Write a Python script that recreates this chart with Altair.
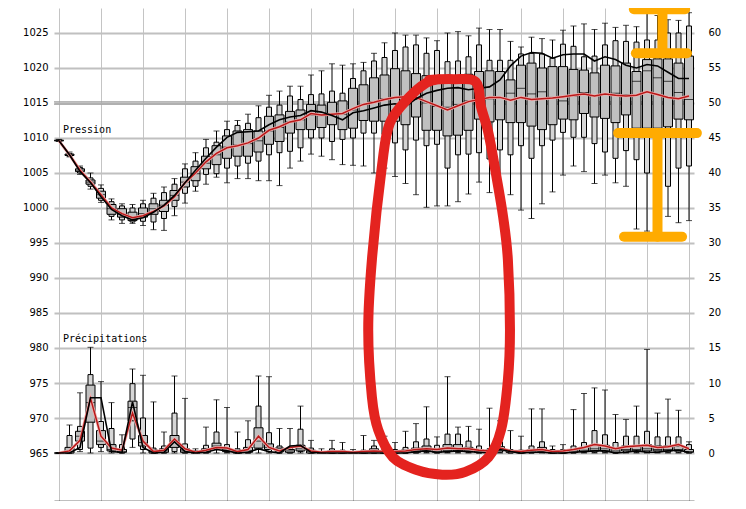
import altair as alt
import pandas as pd

steps = list(range(61))

# ---- Pression (hPa) : min, p10, q1, median, q3, p90, max, controle, moyenne
p_min = [1009.5, 1007.3, 1004.8, 1002.7, 1000.8, 998.3, 997.8, 997.8, 997.5, 996.9,
         996.8, 998.9, 1000.7, 1002.4, 1003.4, 1004.4, 1003.6, 1004.2, 1004.2, 1003.9,
         1003.9, 1003.2, 1005.7, 1006.7, 1007.7, 1007.4, 1006.9, 1006.2, 1006.1, 1006.0,
         1005.0, 1005.7, 1004.5, 1003.5, 1001.9, 1000.1, 1000.3, 1000.3, 1000.9, 1002.0,
         1003.7, 1002.2, 1001.6, 1001.9, 999.7, 998.5, 1000.6, 1002.3, 1004.7, 1006.0,
         1005.2, 1003.5, 1004.7, 1003.6, 1003.1, 997.0, 996.7, 998.0, 998.8, 997.9, 998.2]
p_p10 = [1009.6, 1007.4, 1005.0, 1003.1, 1001.1, 998.8, 998.3, 998.0, 998.1, 998.0,
         998.5, 1000.2, 1002.1, 1003.1, 1004.8, 1004.9, 1005.7, 1006.0, 1006.4, 1006.7,
         1007.6, 1007.9, 1008.1, 1008.6, 1010.0, 1010.0, 1009.5, 1009.8, 1010.0, 1010.7,
         1010.7, 1010.5, 1009.3, 1008.3, 1009.7, 1008.9, 1009.1, 1005.7, 1007.6, 1007.7,
         1007.9, 1007.0, 1008.3, 1007.6, 1008.9, 1007.1, 1008.9, 1009.7, 1010.8, 1010.1,
         1010.1, 1009.2, 1008.0, 1007.1, 1008.2, 1006.9, 1005.0, 1006.0, 1003.1, 1005.7, 1006.0]
p_q1 = [1009.6, 1007.5, 1005.2, 1003.4, 1001.4, 999.1, 998.7, 998.2, 998.7, 999.1,
        999.5, 1001.1, 1003.0, 1003.9, 1005.6, 1006.2, 1007.1, 1007.4, 1007.4, 1008.0,
        1009.1, 1009.5, 1010.7, 1011.2, 1011.2, 1011.5, 1011.9, 1011.2, 1011.4, 1012.5,
        1012.4, 1012.4, 1012.4, 1011.9, 1013.0, 1011.1, 1011.1, 1010.3, 1010.4, 1011.1,
        1012.7, 1012.3, 1012.6, 1012.2, 1012.2, 1011.7, 1011.2, 1011.9, 1012.7, 1012.6,
        1013.5, 1013.0, 1012.8, 1012.2, 1013.3, 1011.4, 1011.4, 1011.4, 1011.6, 1012.7, 1012.6]
p_med = [1009.6, 1007.6, 1005.4, 1003.7, 1001.9, 999.9, 999.1, 998.7, 999.2, 999.9,
         1000.4, 1001.8, 1003.7, 1004.9, 1006.4, 1007.6, 1008.7, 1009.0, 1009.2, 1009.6,
         1011.0, 1011.5, 1012.3, 1012.6, 1013.3, 1013.2, 1013.4, 1013.4, 1014.0, 1014.8,
         1015.2, 1015.6, 1015.8, 1015.8, 1015.5, 1015.0, 1014.5, 1014.4, 1014.8, 1015.3,
         1016.9, 1015.6, 1015.7, 1016.4, 1017.1, 1016.3, 1016.6, 1015.8, 1015.3, 1016.0,
         1016.5, 1016.0, 1016.3, 1016.4, 1016.2, 1018.1, 1019.6, 1018.6, 1018.1, 1016.5, 1015.5]
p_q3 = [1009.7, 1007.7, 1005.6, 1004.0, 1002.4, 1000.5, 999.9, 999.4, 1000.0, 1000.6,
        1001.1, 1002.5, 1004.4, 1005.9, 1007.4, 1008.9, 1010.3, 1011.0, 1011.2, 1011.0,
        1013.1, 1013.3, 1013.8, 1014.0, 1014.8, 1014.7, 1015.1, 1015.3, 1017.1, 1017.6,
        1018.6, 1019.0, 1019.9, 1019.6, 1019.2, 1018.9, 1018.5, 1018.0, 1018.8, 1019.1,
        1019.5, 1019.6, 1019.5, 1018.3, 1020.4, 1020.7, 1020.0, 1020.2, 1020.2, 1019.8,
        1019.7, 1019.3, 1020.4, 1020.3, 1020.7, 1019.5, 1021.2, 1021.3, 1021.3, 1020.7, 1021.7]
p_p90 = [1009.7, 1007.8, 1005.8, 1004.3, 1002.8, 1000.9, 1000.3, 1000.0, 1000.6, 1001.4,
         1002.2, 1003.4, 1005.6, 1006.7, 1008.6, 1009.4, 1011.2, 1011.8, 1012.1, 1012.9,
         1014.4, 1014.7, 1016.0, 1015.5, 1016.2, 1016.3, 1016.7, 1016.4, 1018.5, 1019.6,
         1021.0, 1021.5, 1022.5, 1023.0, 1023.3, 1022.1, 1022.5, 1020.9, 1021.0, 1021.6,
         1023.3, 1021.1, 1021.1, 1021.1, 1022.0, 1022.1, 1022.0, 1021.4, 1023.4, 1023.1,
         1021.6, 1021.7, 1023.3, 1023.9, 1023.8, 1023.7, 1024.0, 1024.0, 1025.0, 1025.0, 1026.0]
p_max = [1009.8, 1008.0, 1006.0, 1005.0, 1003.3, 1001.3, 1000.6, 1000.5, 1001.1, 1002.1,
         1003.0, 1004.2, 1006.3, 1007.9, 1009.8, 1011.0, 1012.4, 1012.5, 1013.4, 1014.6,
         1016.1, 1016.7, 1017.4, 1017.4, 1019.0, 1019.6, 1020.6, 1020.4, 1020.6, 1020.8,
         1022.1, 1023.6, 1025.0, 1024.7, 1024.7, 1024.3, 1023.9, 1025.0, 1025.2, 1024.6,
         1025.7, 1025.5, 1025.5, 1023.8, 1023.0, 1024.4, 1024.2, 1024.0, 1025.4, 1026.0,
         1026.3, 1025.5, 1026.4, 1025.8, 1026.1, 1025.9, 1027.8, 1027.5, 1026.9, 1026.8, 1027.9]
p_ctrl = [1009.6, 1007.6, 1005.2, 1003.6, 1001.6, 999.8, 998.9, 998.3, 998.6, 999.4,
          1000.4, 1001.8, 1003.6, 1005.4, 1007.1, 1008.7, 1010.1, 1010.8, 1010.9, 1011.0,
          1011.9, 1012.6, 1013.0, 1013.2, 1013.9, 1013.7, 1013.2, 1012.6, 1013.6, 1013.9,
          1014.3, 1014.7, 1014.9, 1014.5, 1015.6, 1016.4, 1016.8, 1017.1, 1017.2, 1016.9,
          1017.1, 1017.3, 1018.3, 1020.3, 1021.7, 1022.2, 1022.1, 1021.4, 1021.9, 1022.0,
          1022.0, 1021.0, 1021.6, 1021.2, 1020.4, 1020.0, 1020.5, 1020.3, 1019.4, 1018.5, 1018.5]
p_mean = [1009.6, 1007.6, 1005.4, 1003.7, 1001.9, 1000.0, 999.2, 998.6, 998.9, 999.5,
          1000.3, 1001.6, 1003.6, 1005.0, 1006.6, 1007.8, 1008.6, 1008.9, 1009.3, 1010.0,
          1011.1, 1011.6, 1012.3, 1012.6, 1013.5, 1013.3, 1013.4, 1013.5, 1014.2, 1014.8,
          1015.1, 1015.5, 1015.8, 1015.9, 1015.8, 1015.2, 1014.6, 1014.0, 1014.6, 1015.2,
          1015.5, 1015.8, 1015.8, 1015.4, 1015.8, 1015.5, 1015.6, 1015.7, 1015.9, 1016.1,
          1016.3, 1016.0, 1016.3, 1016.1, 1016.0, 1016.1, 1016.6, 1016.2, 1015.8, 1015.6, 1016.0]

# ---- Precipitations (mm)
r_min = [0, 0, 0.2, 0, 0.2, 0, 0, 0.8, 0, 0, 0, 0, 0, 0, 0, 0, 0, 0, 0, 0,
         0, 0, 0, 0, 0, 0, 0, 0, 0, 0, 0, 0, 0, 0, 0, 0, 0, 0, 0, 0,
         0, 0, 0, 0, 0, 0, 0, 0, 0, 0, 0, 0, 0, 0, 0, 0, 0, 0, 0, 0, 0]
r_p10 = [0, 0, 0.5, 0.7, 0.8, 0.2, 0, 2.0, 0.5, 0, 0, 0.2, 0, 0, 0, 0.5, 0.1, 0, 0, 0.5,
         0.2, 0, 0, 0.2, 0, 0, 0, 0, 0, 0, 0, 0, 0, 0, 0, 0.1, 0, 0.1, 0.1, 0.1,
         0, 0, 0.1, 0, 0, 0, 0.1, 0, 0, 0, 0.1, 0.1, 0.1, 0, 0.1, 0.1, 0.1, 0.1, 0.1, 0.1, 0]
r_q1 = [0, 0, 1.7, 4.4, 1.2, 0.3, 0.1, 4.6, 1.0, 0, 0.1, 0.8, 0.1, 0, 0.1, 0.7, 0.2, 0, 0.1, 0.7,
        0.5, 0.2, 0.1, 0.3, 0, 0, 0, 0, 0, 0, 0.1, 0, 0, 0.1, 0.1, 0.3, 0.1, 0.3, 0.3, 0.2,
        0.1, 0.1, 0.3, 0.1, 0, 0.1, 0.2, 0, 0, 0.1, 0.2, 0.3, 0.3, 0.1, 0.3, 0.3, 0.3, 0.3, 0.3, 0.3, 0.1]
r_med = [0, 0.2, 2.4, 7.2, 1.7, 0.5, 0.2, 6.5, 1.5, 0.2, 0.3, 1.7, 0.3, 0.1, 0.3, 1.0, 0.4, 0.1, 0.3, 1.7,
         0.8, 0.4, 0.3, 0.6, 0.2, 0, 0.1, 0.1, 0, 0.1, 0.3, 0.1, 0.1, 0.2, 0.3, 0.5, 0.3, 0.6, 0.6, 0.4,
         0.3, 0.2, 0.5, 0.2, 0.1, 0.3, 0.4, 0.1, 0.1, 0.3, 0.4, 0.6, 0.6, 0.3, 0.5, 0.5, 0.6, 0.5, 0.5, 0.5, 0.2]
r_q3 = [0, 0.8, 3.1, 9.7, 3.2, 1.2, 0.5, 7.4, 2.5, 0.4, 0.6, 2.5, 0.6, 0.2, 0.6, 1.4, 0.6, 0.3, 0.8, 3.6,
        1.3, 0.7, 0.5, 1.1, 0.4, 0.1, 0.3, 0.2, 0.1, 0.2, 0.6, 0.3, 0.2, 0.4, 0.7, 1.0, 0.6, 1.2, 1.2, 0.8,
        0.5, 0.4, 0.9, 0.3, 0.2, 0.5, 0.8, 0.2, 0.2, 0.5, 0.8, 1.2, 1.1, 0.6, 1.0, 1.0, 1.2, 1.0, 1.0, 1.0, 0.5]
r_p90 = [0, 2.5, 3.8, 11.2, 4.5, 3.5, 1.2, 9.9, 5.0, 0.7, 1.0, 5.7, 1.3, 0.3, 1.1, 3.0, 1.2, 0.6, 1.9, 6.7,
         2.9, 1.0, 0.8, 3.4, 0.7, 0.2, 0.6, 0.4, 0.2, 0.4, 1.0, 0.6, 0.5, 0.8, 1.6, 2.0, 1.1, 2.7, 2.7, 1.7,
         1.0, 0.6, 1.6, 0.5, 0.4, 1.0, 1.6, 0.5, 0.5, 1.0, 1.5, 3.2, 2.6, 1.5, 2.4, 2.4, 3.1, 2.3, 2.3, 2.3, 1.2]
r_max = [0, 4.0, 8.6, 15.1, 10.2, 7.2, 2.6, 12.0, 11.1, 7.3, 3.0, 11.0, 7.8, 0.6, 3.7, 7.6, 6.5, 3.0, 4.6, 11.0,
         10.9, 3.5, 3.5, 6.7, 1.8, 0.6, 1.8, 1.5, 0.5, 2.5, 1.8, 2.4, 1.5, 3.1, 4.2, 6.6, 2.3, 10.9, 3.7, 3.8,
         3.4, 6.4, 4.6, 3.2, 2.4, 6.3, 6.3, 1.0, 1.2, 6.2, 8.5, 9.3, 9.0, 5.5, 4.8, 6.7, 14.8, 5.7, 7.7, 6.1, 1.6]
r_ctrl = [0, 0, 0.8, 7.9, 7.9, 0.2, 0.1, 7.3, 0.8, 0, 0.1, 1.6, 0.2, 0, 0.1, 0.5, 0.3, 0, 0.1, 0.6,
          0.2, 0, 1.0, 1.1, 0.1, 0, 0, 0, 0, 0, 0, 0, 0, 0, 0.2, 0.3, 0.1, 0.2, 0.3, 0.2,
          0.1, 0, 0.5, 0.2, 0, 0.1, 0.1, 0, 0, 0.1, 0.2, 0.3, 0.3, 0, 0.1, 0.3, 0.1, 0.1, 0.3, 0.4, 0.1]
r_mean = [0, 0.3, 1.8, 7.8, 2.4, 0.7, 0.4, 5.7, 1.7, 0.2, 0.4, 2.0, 0.6, 0.1, 0.4, 0.8, 0.7, 0.2, 0.5, 2.4,
          0.8, 0.3, 0.8, 1.0, 0.3, 0.1, 0.2, 0.2, 0.1, 0.2, 0.3, 0.2, 0.2, 0.3, 0.5, 0.6, 0.5, 0.7, 0.6, 0.6,
          0.4, 0.3, 0.7, 0.3, 0.2, 0.4, 0.5, 0.2, 0.3, 0.5, 0.8, 1.2, 1.0, 0.6, 0.9, 1.0, 1.1, 0.8, 0.9, 1.2, 0.6]

precip_base = 965  # 0 mm sits on the 965 hPa line (right axis = left axis - 965)

y_levels = list(range(965, 1030, 5))
x_grid = list(range(0, 61, 4))
ref_1015 = [1015.15, 1014.85]

# hand-drawn annotations (data units: step, hPa)
loop_i = [35.25, 37.6, 39.7, 40.2, 40.9, 41.6, 42.3, 42.75, 42.95, 42.75, 42.1, 40.9, 38.7,
          36.5, 34.0, 31.8, 30.4, 29.8, 29.45, 29.8, 30.75, 31.5, 33.4, 35.0, 36.2]
loop_p = [1018.3, 1018.4, 1018.0, 1014.4, 1010.7, 1005.0, 998.7, 992.6, 982.6, 975.4, 968.3,
          964.4, 962.3, 961.9, 962.6, 964.4, 968.3, 973.0, 982.6, 992.6, 1005.9, 1012.1,
          1015.9, 1017.9, 1018.4]
beam_i1 = [54.75, 57.47, 54.94, 53.25, 57.0, 53.81]
beam_i2 = [59.63, 57.47, 59.81, 60.75, 57.0, 59.34]
beam_p1 = [1028.4, 1028.4, 1022.1, 1010.7, 1010.7, 995.9]
beam_p2 = [1028.4, 1022.1, 1022.1, 1010.7, 995.9, 995.9]


def table(kind, mn, p10, q1, med, q3, p90, mx, ctrl, mean, off):
    return pd.DataFrame({
        "i": steps, "kind": kind,
        "mn": [v + off for v in mn], "p10": [v + off for v in p10],
        "q1": [v + off for v in q1], "med": [v + off for v in med],
        "q3": [v + off for v in q3], "p90": [v + off for v in p90],
        "mx": [v + off for v in mx], "ctrl": [v + off for v in ctrl],
        "mean": [v + off for v in mean],
    })


df = pd.concat([
    table("pression", p_min, p_p10, p_q1, p_med, p_q3, p_p90, p_max, p_ctrl, p_mean, 0),
    table("precip", r_min, r_p10, r_q1, r_med, r_q3, r_p90, r_max, r_ctrl, r_mean, precip_base),
], ignore_index=True)

loop_df = pd.DataFrame({"i": loop_i, "p": loop_p, "o": list(range(len(loop_i)))})
beam_df = pd.DataFrame({"i1": beam_i1, "i2": beam_i2, "p1": beam_p1, "p2": beam_p2})
ref_df = pd.DataFrame({"p": ref_1015})

x_scale = alt.Scale(domain=[0, 60], nice=False, zero=False)
y_scale = alt.Scale(domain=[958.143, 1028.571], nice=False, zero=False)

x_axis = alt.Axis(values=x_grid, grid=True, gridColor="#c4c4c4", gridWidth=1,
                  labels=False, ticks=True, tickColor="#000", tickSize=4, tickWidth=1.5,
                  domain=True, domainColor="#000", domainWidth=1.5, title=None)
left_axis = alt.Axis(values=y_levels, format="d", grid=True, gridColor="#c0c0c0", gridWidth=2,
                     ticks=False, domain=False, labelFont="DejaVu Sans", labelFontSize=10,
                     labelColor="#000", labelPadding=6, title=None)
right_axis = alt.Axis(orient="right", values=y_levels, labelExpr="format(datum.value - 965, 'd')",
                      grid=False, ticks=False, domain=False, labelFont="DejaVu Sans",
                      labelFontSize=10, labelColor="#000", labelPadding=14, title=None)


def X(field="i"):
    return alt.X(f"{field}:Q", scale=x_scale, axis=x_axis)


def Y(field, axis=None):
    return alt.Y(f"{field}:Q", scale=y_scale, axis=axis)


base = alt.Chart(df)

ref = alt.Chart(ref_df).mark_rule(color="#a0a0a0", strokeWidth=1.2).encode(y=Y("p", left_axis))

whisk = base.mark_rule(color="#000", strokeWidth=1).encode(
    x=X(), y=Y("mn", right_axis), y2="mx:Q")
cap_lo = base.mark_tick(orient="horizontal", size=6, thickness=1, color="#000").encode(
    x=X(), y=Y("mn"))
cap_hi = base.mark_tick(orient="horizontal", size=6, thickness=1, color="#000").encode(
    x=X(), y=Y("mx"))
narrow = base.mark_bar(width=5, fill="#d6d6d6", stroke="#000", strokeWidth=1).encode(
    x=X(), y=Y("p10"), y2="p90:Q")
wide = base.mark_bar(width=9, fill="#c0c0c0", stroke="#000", strokeWidth=1).encode(
    x=X(), y=Y("q1"), y2="q3:Q")
median = base.mark_tick(orient="horizontal", size=9, thickness=1, color="#000").encode(
    x=X(), y=Y("med"))
halo = base.mark_line(color="#eeb0b0", strokeWidth=3).encode(
    x=X(), y=Y("mean"), detail="kind:N")
mean_line = base.mark_line(color="#b81818", strokeWidth=1.5).encode(
    x=X(), y=Y("mean"), detail="kind:N")
ctrl_line = base.mark_line(color="#000", strokeWidth=1.6).encode(
    x=X(), y=Y("ctrl"), detail="kind:N")

txt_style = dict(font="DejaVu Sans Mono", fontSize=10, color="#000", align="left", baseline="alphabetic")
t1 = alt.Chart(pd.DataFrame({"t": ["Pression"]})).mark_text(**txt_style).encode(
    x=alt.value(9), y=alt.value(125), text="t:N")
t2 = alt.Chart(pd.DataFrame({"t": ["Précipitations"]})).mark_text(**txt_style).encode(
    x=alt.value(9), y=alt.value(334), text="t:N")

loop = alt.Chart(loop_df).mark_line(color="#e4231f", strokeWidth=10, strokeCap="round",
                                    strokeJoin="round", interpolate="cardinal").encode(
    x=X(), y=Y("p"), order="o:Q")
beams = alt.Chart(beam_df).mark_rule(color="#ffab00", strokeWidth=10, strokeCap="round").encode(
    x=X("i1"), x2="i2:Q", y=Y("p1"), y2="p2:Q")

chart = alt.layer(
    ref, whisk, cap_lo, cap_hi, narrow, wide, median, halo, mean_line, ctrl_line,
    t1, t2, loop, beams
).resolve_scale(y="shared", x="shared").resolve_axis(y="independent", x="shared").properties(
    width=640, height=493,
    autosize=alt.AutoSizeParams(type="none"),
    padding={"left": 46, "top": 0, "right": 44, "bottom": 0},
    background="white",
).configure_view(stroke=None)

chart.save("out.html", embed_options={"renderer": "svg", "actions": False})
